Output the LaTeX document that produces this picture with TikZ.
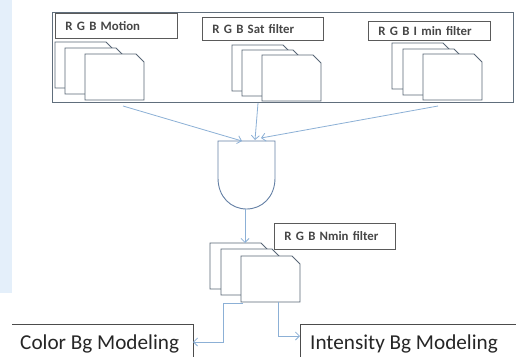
\documentclass[tikz,border=0pt]{standalone}
\usepackage{fontspec}
\setmainfont{Carlito}
\usetikzlibrary{arrows.meta}
\definecolor{arrowblue}{RGB}{140,176,214}
\definecolor{docline}{RGB}{88,102,118}
\definecolor{frameline}{RGB}{96,110,124}
\definecolor{gateline}{RGB}{100,128,165}
\definecolor{lblline}{RGB}{90,90,90}
\definecolor{lbltext}{RGB}{70,70,70}
\definecolor{paleblue}{RGB}{228,239,250}
\tikzset{
  docstyle/.style={draw=docline, fill=white, line width=0.9pt, line join=miter},
  framestyle/.style={draw=frameline, line width=0.9pt},
  lbl/.style={draw=lblline, fill=white, line width=0.8pt, anchor=north west,
    align=left, inner xsep=10pt, inner ysep=0pt,
    font=\fontsize{12.8}{14}\selectfont\bfseries, text=lbltext},
  flow/.style={draw=arrowblue, line width=0.8pt, -{Straight Barb[length=4pt,width=8pt]}},
  bigtext/.style={font=\fontsize{21.2}{25}\selectfont, text=black!85, anchor=base west, inner sep=0pt},
  boxline/.style={draw=black!70, line width=0.9pt}
}
\newcommand\docpage[2]{%
  \draw[docstyle] (#1,#2) -- ++(51,0) -- ++(8,8) -- ++(0,38) -- ++(-59,0) -- cycle;}
\begin{document}
\begin{tikzpicture}[x=1pt,y=-1pt]
\useasboundingbox (0,0) rectangle (516,356);
\fill[white] (0,0) rectangle (516,356);
\fill[paleblue] (0,0) rectangle (12,293);
% outer frame
\draw[framestyle] (52,12) rectangle (513,102);
% Motion group
\docpage{55}{42}
\docpage{65}{48}
\docpage{85}{54}
\node[lbl, text width=102pt, minimum height=25pt] (lm) at (55,13) {R G B Motion};
% Sat group
\docpage{232}{45}
\docpage{242}{50}
\docpage{262}{55}
\node[lbl, text width=101pt, minimum height=23pt] (ls) at (202,17) {R G B Sat filter};
% I min group
\docpage{392}{43}
\docpage{403}{49}
\docpage{423}{54}
\node[lbl, text width=102pt, minimum height=19pt] (li) at (368,21) {R G B I min filter};
% gate
\draw[draw=gateline, fill=white, line width=0.9pt] (218,141) -- (275,141) -- (275,178)
  .. controls (275,197) and (262,209) .. (246.5,209)
  .. controls (231,209) and (218,197) .. (218,178) -- cycle;
\coordinate (gt1) at (242,141);
\coordinate (gt2) at (255,140);
\coordinate (gt3) at (261,138);
\coordinate (gb) at (245,209);
\coordinate (fm) at (123,106);
\coordinate (fs) at (258,103);
\coordinate (fi) at (438,106);
\draw[flow] (fm) -- (gt1);
\draw[flow] (fs) -- (gt2);
\draw[flow] (fi) -- (gt3);
% Nmin group
\docpage{210}{243}
\docpage{221}{249}
\docpage{241}{256}
\node[lbl, text width=101pt, minimum height=26pt] (ln) at (274,223) {R G B Nmin filter};
\coordinate (nt) at (245,243);
\draw[flow] (gb) -- (nt);
% output boxes
\node[bigtext] (cb) at (20,349) {Color Bg Modeling};
\node[bigtext] (ib) at (310,349) {Intensity Bg Modeling};
\coordinate (cbr) at (193,342);
\coordinate (ibl) at (300,336);
\draw[boxline] (12,324) -- (193,324) -- (193,358);
\draw[boxline] (300,358) -- (300,324) -- (518,324);
\coordinate (nl) at (243,303);
\coordinate (nr) at (278,302);
\draw[flow] (nl) -| (223,342) -- (cbr);
\draw[flow] (nr) |- (ibl);
\end{tikzpicture}
\end{document}
